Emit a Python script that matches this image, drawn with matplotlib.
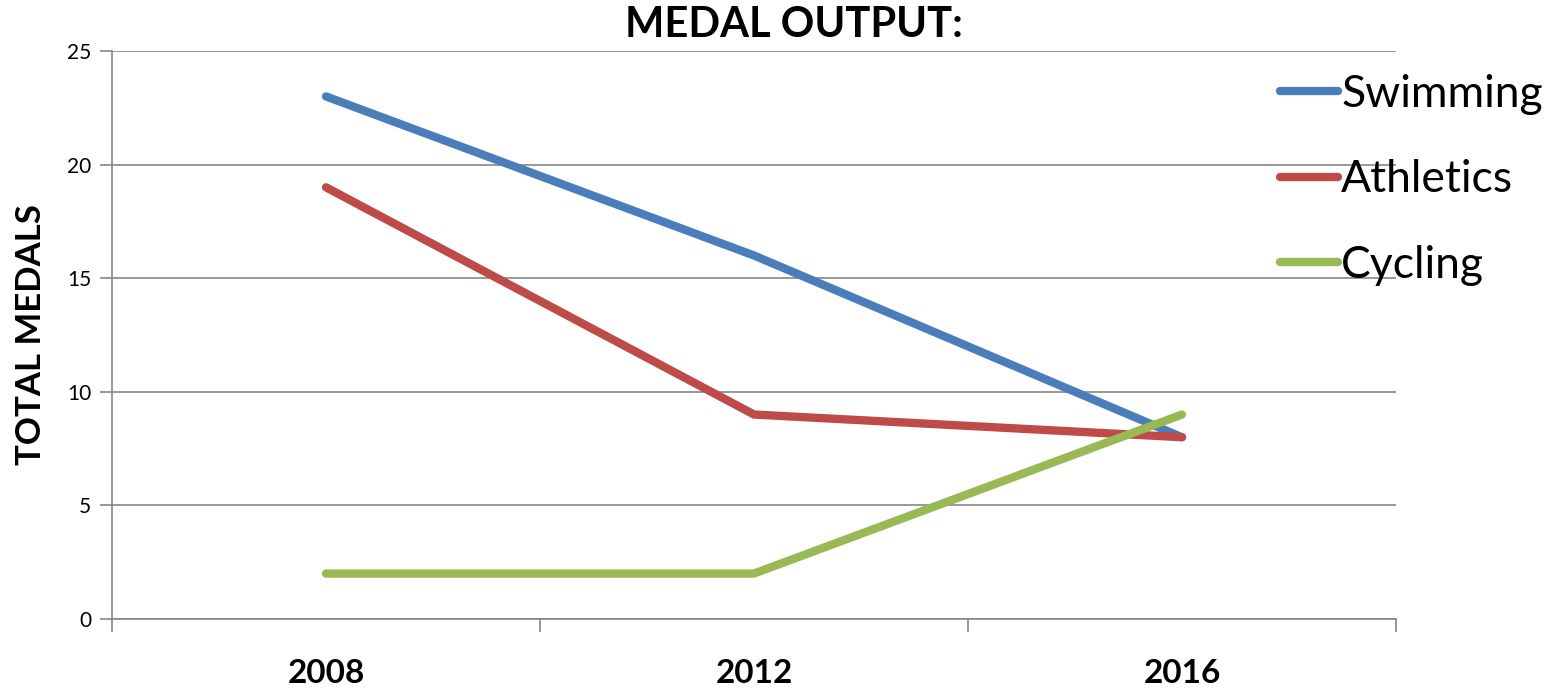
import matplotlib
matplotlib.use("Agg")
import matplotlib.pyplot as plt

plt.rcParams['font.family'] = ['Lato', 'DejaVu Sans']

years = ["2008", "2012", "2016"]
swimming = [23, 16, 8]
athletics = [19, 9, 8]
cycling = [2, 2, 9]
series_names = ["Swimming", "Athletics", "Cycling"]
colors = ["#4A7EBB", "#BE4B48", "#98B954"]

W, H = 1558, 693
fig = plt.figure(figsize=(W / 100, H / 100), dpi=100)
ax = fig.add_axes([112 / W, (H - 619) / H, (1396 - 112) / W, (619 - 51) / H])

x = list(range(len(years)))
for vals, name, c in zip([swimming, athletics, cycling], series_names, colors):
    ax.plot(x, vals, color=c, lw=6, solid_capstyle='round', label=name, zorder=3)

ax.set_xlim(-0.5, len(years) - 0.5)
ax.set_ylim(0, 25)
ax.set_yticks([0, 5, 10, 15, 20, 25])
ax.set_yticklabels(["0", "5", "10", "15", "20", "25"], fontsize=15)
ax.set_xticks(x)
ax.set_xticklabels(years, fontsize=24, fontweight='bold')
ax.set_xticks([-0.5, 0.5, 1.5, 2.5], minor=True)
ax.tick_params(axis='x', which='major', length=0, pad=29)
ax.tick_params(axis='x', which='minor', length=9, color='#868686', width=1.2, direction='out')
ax.tick_params(axis='y', length=9, color='#868686', width=1.2, direction='out', pad=6)

ax.grid(axis='y', color='#868686', lw=1.2, zorder=0)
for s in ['top', 'right']:
    ax.spines[s].set_visible(False)
for s in ['left', 'bottom']:
    ax.spines[s].set_color('#868686')
    ax.spines[s].set_linewidth(1.2)

ax.set_ylabel("TOTAL MEDALS", fontsize=25, fontweight='bold', labelpad=14)

fig.text(794 / W, 1 - 37 / H, "MEDAL OUTPUT:", ha='center', va='baseline',
         fontsize=30, fontweight='bold')

leg = ax.legend(loc='upper left', bbox_to_anchor=(1280 / W, 1 - 74 / H),
                bbox_transform=fig.transFigure, frameon=False, fontsize=32,
                handlelength=1.3, handletextpad=0.08, labelspacing=1.0,
                borderaxespad=0, borderpad=0)
for line in leg.get_lines():
    line.set_linewidth(6)
    line.set_solid_capstyle('round')

fig.savefig("out.png", dpi=100)
